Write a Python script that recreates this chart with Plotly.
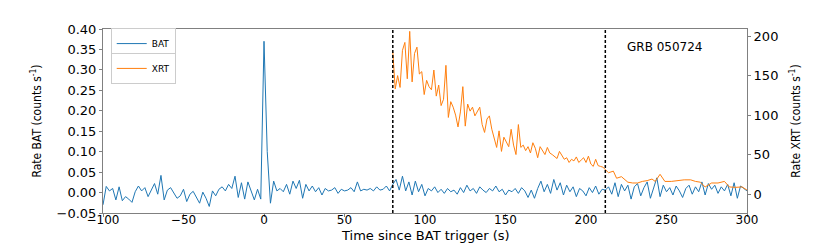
import plotly.graph_objects as go

# ---------------- data ----------------
bat_bin = 2.0
bat_start = -100
bat_rate = [
    -0.030, 0.015, 0.004, 0.010, -0.018, 0.014, -0.020, -0.010, -0.016, -0.024,
    0.002, 0.016, 0.004, 0.012, -0.010, 0.008, 0.022, -0.004, 0.042, -0.018,
    0.006, 0.012, -0.002, -0.014, -0.008, 0.008, -0.022, -0.004, 0.003, -0.012,
    -0.026, 0.001, -0.014, -0.034, 0.004, -0.008, 0.008, 0.014, 0.004, 0.020,
    0.010, 0.040, -0.012, 0.024, -0.016, 0.026, 0.006, -0.018, 0.008, -0.016,
    0.370,
    0.100, -0.026, 0.028, 0.004, 0.010, 0.002, 0.020, -0.004, 0.028, 0.010,
    0.030, -0.014, 0.020, 0.004, 0.016, 0.002, 0.012, -0.006, 0.010, 0.004,
    0.006, 0.012, -0.002, 0.008, 0.004, 0.006, 0.012, 0.002, 0.026, 0.004,
    0.008, 0.006, 0.010, 0.004, 0.014, 0.006, 0.008, 0.016, 0.004,
    0.020, 0.032, 0.006, 0.040, 0.004, 0.026, -0.006, 0.028, 0.002, 0.020, -0.008,
    0.010, 0.004, 0.014, 0.000, 0.008, -0.002, 0.010, 0.002, 0.006, -0.004,
    0.012, 0.000, 0.018, 0.004, 0.010, -0.002, 0.014, 0.006, 0.000, 0.010,
    0.004, 0.016, 0.002, 0.008, -0.006, 0.006, 0.002, 0.010, -0.002, 0.012,
    0.004, -0.012, 0.006, -0.014, 0.010, 0.028, 0.002, 0.020, -0.002, 0.032,
    0.006, 0.024, -0.006, 0.018, 0.002, 0.014, -0.010, 0.010, 0.004, -0.008,
    0.012, 0.000, 0.016, -0.004, 0.008,
    0.006, 0.014, -0.004, 0.024, -0.010, 0.020, 0.004, 0.018, -0.016, 0.014,
    0.022, -0.008, 0.012, 0.026, -0.014, 0.010, 0.036, -0.010, 0.018, 0.002,
    0.012, -0.006, 0.016, 0.004, -0.012, 0.010, 0.018, -0.004, 0.014, 0.002,
    0.026, -0.006, 0.022, 0.008, 0.018, -0.002, 0.014, 0.004, 0.020, -0.008,
    0.024, -0.014, 0.016, 0.010, 0.004,
]
bat_time = [bat_start + bat_bin * i for i in range(len(bat_rate))]

# XRT windowed-timing part (dense bins)
xrt_wt_start = 80.0
xrt_wt_bin = 1.5
xrt_wt_rate = [
    180, 133, 150, 135, 182, 192, 146, 206, 142, 178,
    186, 152, 155, 126, 144, 136, 132, 157, 124, 138,
    112, 120, 163, 97, 117, 110, 100, 85, 104, 136,
    86, 114, 105, 110, 99, 104, 110, 88, 78, 95,
    99, 82, 69, 59, 80, 54, 72, 65, 60, 82,
    62, 50, 88, 59, 62, 55, 60, 52, 65, 58,
    46, 60, 55, 50, 59, 52, 50, 48, 45, 54,
    48, 44, 46, 40, 44, 42, 47, 40, 43, 46,
    40, 48, 38, 35, 44, 36, 35, 34, 31,
]
xrt_wt_time = [xrt_wt_start + xrt_wt_bin * i for i in range(len(xrt_wt_rate))]

# XRT later part (sparser bins)
xrt_late_time = [214, 217, 219, 222, 226, 229, 232, 235, 238, 241, 243, 246, 249,
                 253, 257, 261, 265, 268, 271, 274, 278, 282, 286, 289, 293, 297, 300]
xrt_late_rate = [27, 29, 20, 22, 15, 14, 14, 16, 17, 19, 16, 25, 16,
                 16, 17, 18, 18, 16, 15, 9, 14, 14, 16, 9, 8.5, 9, 5]

xrt_time = xrt_wt_time + xrt_late_time
xrt_rate = xrt_wt_rate + xrt_late_rate

marker_times = [80, 212]
x_ticks = [-100, -50, 0, 50, 100, 150, 200, 250, 300]
bat_ticks = [-0.05, 0.00, 0.05, 0.10, 0.15, 0.20, 0.25, 0.30, 0.35, 0.40]
xrt_ticks = [0, 50, 100, 150, 200]
grb_name = "GRB 050724"
x_title = "Time since BAT trigger (s)"

# ---------------- figure ----------------
# The page body has an 8px default margin, so the figure is 8px smaller
# than the 830x245 window and the margins are shifted accordingly.
FONT = "DejaVu Sans"
NARROW = "DejaVu Sans Condensed, Liberation Sans Narrow, DejaVu Sans"
AXC = "#808080"

fig = go.Figure()
fig.add_trace(go.Scatter(x=bat_time, y=bat_rate, mode="lines", name="BAT",
                         line=dict(color="#1f77b4", width=1), yaxis="y",
                         legend="legend"))
fig.add_trace(go.Scatter(x=xrt_time, y=xrt_rate, mode="lines", name="XRT",
                         line=dict(color="#ff7f0e", width=1), yaxis="y2",
                         legend="legend2"))

for t in marker_times:
    fig.add_shape(type="line", x0=t, x1=t, xref="x", y0=0, y1=1, yref="paper",
                  line=dict(color="black", width=1.5, dash="3px,2px"))

fig.add_annotation(text=grb_name, x=0.935, y=0.90, xref="paper", yref="paper",
                   xanchor="right", yanchor="middle",
                   showarrow=False, font=dict(family=FONT, size=12, color="black"))

fig.add_annotation(text=x_title, x=0.5, y=-0.122, xref="paper", yref="paper",
                   xanchor="center", yanchor="middle",
                   showarrow=False, font=dict(family=FONT, size=13, color="black"))

legend_style = dict(font=dict(family=FONT, size=9, color="black"),
                    bgcolor="white", bordercolor="#cccccc", borderwidth=1,
                    xanchor="left", yanchor="top", x=0.012,
                    itemwidth=30, tracegroupgap=0)

fig.update_layout(
    width=822, height=237,
    margin=dict(l=95, r=83, t=21, b=32, autoexpand=False),
    paper_bgcolor="white", plot_bgcolor="white",
    showlegend=True,
    legend=dict(**legend_style, y=1.005),
    legend2=dict(**legend_style, y=0.87),
    xaxis=dict(range=[-100, 300], tickvals=x_ticks, showgrid=False, zeroline=False,
               automargin=False,
               showline=True, linecolor=AXC, linewidth=1, mirror=True,
               ticks="outside", ticklen=3, tickcolor=AXC, ticklabelstandoff=-7,
               tickfont=dict(family=FONT, size=12, color="black")),
    yaxis=dict(range=[-0.05, 0.40], tickvals=bat_ticks, tickformat=".2f",
               showgrid=False, zeroline=False, automargin=False,
               showline=True, linecolor=AXC, linewidth=1,
               ticks="outside", ticklen=3, tickcolor=AXC,
               tickfont=dict(family=FONT, size=13, color="black"),
               title=dict(text="Rate BAT (counts s<sup>-1</sup>)", standoff=12,
                          font=dict(family=NARROW, size=12, color="black"))),
    yaxis2=dict(range=[-24, 209], tickvals=xrt_ticks, overlaying="y", side="right",
                showgrid=False, zeroline=False, automargin=False,
                showline=True, linecolor=AXC, linewidth=1,
                ticks="outside", ticklen=3, tickcolor=AXC,
                tickfont=dict(family=FONT, size=13, color="black"),
                title=dict(text="Rate XRT (counts s<sup>-1</sup>)", standoff=14,
                           font=dict(family=NARROW, size=12, color="black"))),
)

fig.write_html("out.html")
